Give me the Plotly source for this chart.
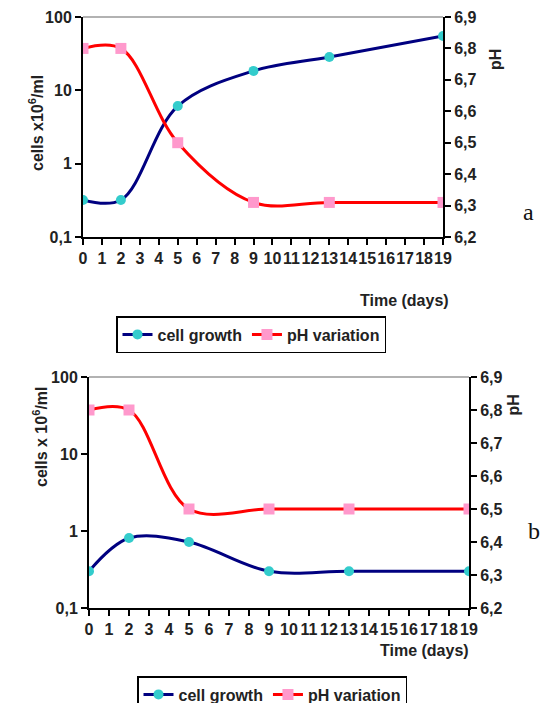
import plotly.graph_objects as go

days = [0, 2, 5, 9, 13, 19]
cells_a = [0.32, 0.32, 6.1, 18.4, 28.5, 55]
ph_a = [6.80, 6.80, 6.50, 6.31, 6.31, 6.31]
cells_b = [0.30, 0.81, 0.72, 0.30, 0.30, 0.30]
ph_b = [6.80, 6.80, 6.50, 6.50, 6.50, 6.50]
x_ticks = list(range(0, 20))
log_ticks = [0.1, 1, 10, 100]
log_labels = ["0,1", "1", "10", "100"]

W, H = 547, 703
FONT = "Liberation Sans, Arial, sans-serif"
TXT = "#222222"
NAVY = "#000080"
TURQ = "#33CCCC"
RED = "#FF0000"
PINK = "#FF99CC"
FS = 16

def px(v):
    return v / W

def py(v):
    return 1 - v / H

fig = go.Figure()

def add_panel(cells, ph, xa, ya, ya2, legend):
    fig.add_trace(go.Scatter(
        x=days, y=cells, name="cell growth", xaxis=xa, yaxis=ya,
        mode="lines+markers", line=dict(color=NAVY, width=3, shape="spline", smoothing=1),
        marker=dict(color=TURQ, size=10, symbol="circle"), legend=legend))
    fig.add_trace(go.Scatter(
        x=days, y=ph, name="pH variation", xaxis=xa, yaxis=ya2,
        mode="lines+markers", line=dict(color=RED, width=3, shape="spline", smoothing=1),
        marker=dict(color=PINK, size=11, symbol="square"), legend=legend))

add_panel(cells_a, ph_a, "x", "y", "y2", "legend")
add_panel(cells_b, ph_b, "x2", "y3", "y4", "legend2")

tickfont = dict(family=FONT, size=FS, color=TXT, weight="bold")

def xaxis(dom, anchor):
    return dict(domain=dom, anchor=anchor, range=[0, 19], tickmode="array", tickvals=x_ticks,
                ticktext=[str(t) for t in x_ticks], tickangle=0, automargin=False,
                showline=True, linecolor="black", linewidth=2, ticks="outside", ticklen=6,
                tickwidth=1.5, tickcolor="black", showgrid=False, zeroline=False, tickfont=tickfont)

def ylog(dom, anchor):
    return dict(domain=dom, anchor=anchor, type="log", range=[-1, 2], tickmode="array",
                tickvals=log_ticks, ticktext=log_labels, showline=True, linecolor="black",
                linewidth=2, ticks="outside", ticklen=6, tickwidth=1.5, tickcolor="black",
                showgrid=False, zeroline=False, tickfont=tickfont, automargin=False)

def yph(over, anchor):
    return dict(overlaying=over, anchor=anchor, side="right", range=[6.2, 6.9], dtick=0.1,
                tick0=6.2, tickformat=".1f", showline=True, linecolor="black", linewidth=2,
                ticks="outside", ticklen=6, tickwidth=1.5, tickcolor="black",
                showgrid=False, zeroline=False, tickfont=tickfont, automargin=False)

def yin_log(over, anchor):
    return dict(overlaying=over, anchor=anchor, side="left", type="log", range=[-1, 2],
                tickmode="array", tickvals=log_ticks, ticks="inside", ticklen=6, tickwidth=1.5,
                tickcolor="black", showticklabels=False, showline=False, showgrid=False,
                zeroline=False, automargin=False)

def yin_ph(over, anchor):
    return dict(overlaying=over, anchor=anchor, side="right", range=[6.2, 6.9], dtick=0.1,
                tick0=6.2, ticks="inside", ticklen=6, tickwidth=1.5, tickcolor="black",
                showticklabels=False, showline=False, showgrid=False, zeroline=False,
                automargin=False)

top_x = [px(83), px(443)]
top_y = [py(237), py(17)]
bot_x = [px(89), px(469)]
bot_y = [py(608), py(377)]

legend_common = dict(orientation="h", bordercolor="black", borderwidth=1.5, bgcolor="white",
                     xanchor="left", yanchor="top", itemwidth=30, tracegroupgap=0)

fig.update_layout(
    width=W, height=H, margin=dict(l=0, r=0, t=0, b=0, autoexpand=False),
    paper_bgcolor="white", plot_bgcolor="white", separators=", ",
    font=dict(family=FONT, size=FS, color=TXT),
    xaxis=xaxis(top_x, "y"),
    yaxis=ylog(top_y, "x"),
    yaxis2=yph("y", "x"),
    xaxis2=xaxis(bot_x, "y3"),
    yaxis3=ylog(bot_y, "x2"),
    yaxis4=yph("y3", "x2"),
    yaxis5=yin_log("y", "x"),
    yaxis6=yin_ph("y", "x"),
    yaxis7=yin_log("y3", "x2"),
    yaxis8=yin_ph("y3", "x2"),
    legend=dict(x=px(116), y=py(316),
                font=dict(family=FONT, size=FS, color=TXT, weight="bold"), **legend_common),
    legend2=dict(x=px(137), y=py(676),
                 font=dict(family=FONT, size=FS, color=TXT, weight="bold"), **legend_common),
    showlegend=True,
)

# top gray borders of plot areas
for xr, yr in (("x", "y"), ("x2", "y3")):
    fig.add_shape(type="line", xref=f"{xr} domain", yref=f"{yr} domain", x0=0, x1=1, y0=1, y1=1,
                  line=dict(color="#999999", width=1.5))

ann = [
    dict(text="cells x10<sup>6</sup>/ml", x=px(24), y=py(73), textangle=-90),
    dict(text="cells x 10<sup>6</sup>/ml", x=px(28), y=py(437), textangle=-90),
    dict(text="pH", x=px(506), y=py(47), textangle=-90),
    dict(text="pH", x=px(523), y=py(405), textangle=-90),
    dict(text="Time (days)", x=px(451), y=py(300), xanchor="right"),
    dict(text="Time (days)", x=px(471), y=py(661), xanchor="right"),
]
for a in ann:
    fig.add_annotation(xref="paper", yref="paper", showarrow=False,
                       font=dict(family=FONT, size=FS, color=TXT, weight="bold"), **a)

serif = dict(family="Liberation Serif, Times New Roman, serif", size=24, color="#111")
fig.add_annotation(text="a", xref="paper", yref="paper", x=px(536), y=py(197), showarrow=False,
                   font=serif)
fig.add_annotation(text="b", xref="paper", yref="paper", x=px(542), y=py(546), showarrow=False,
                   font=serif)

fig.write_html("out.html", post_script="document.body.style.margin='0';",
               config={"displayModeBar": False})
